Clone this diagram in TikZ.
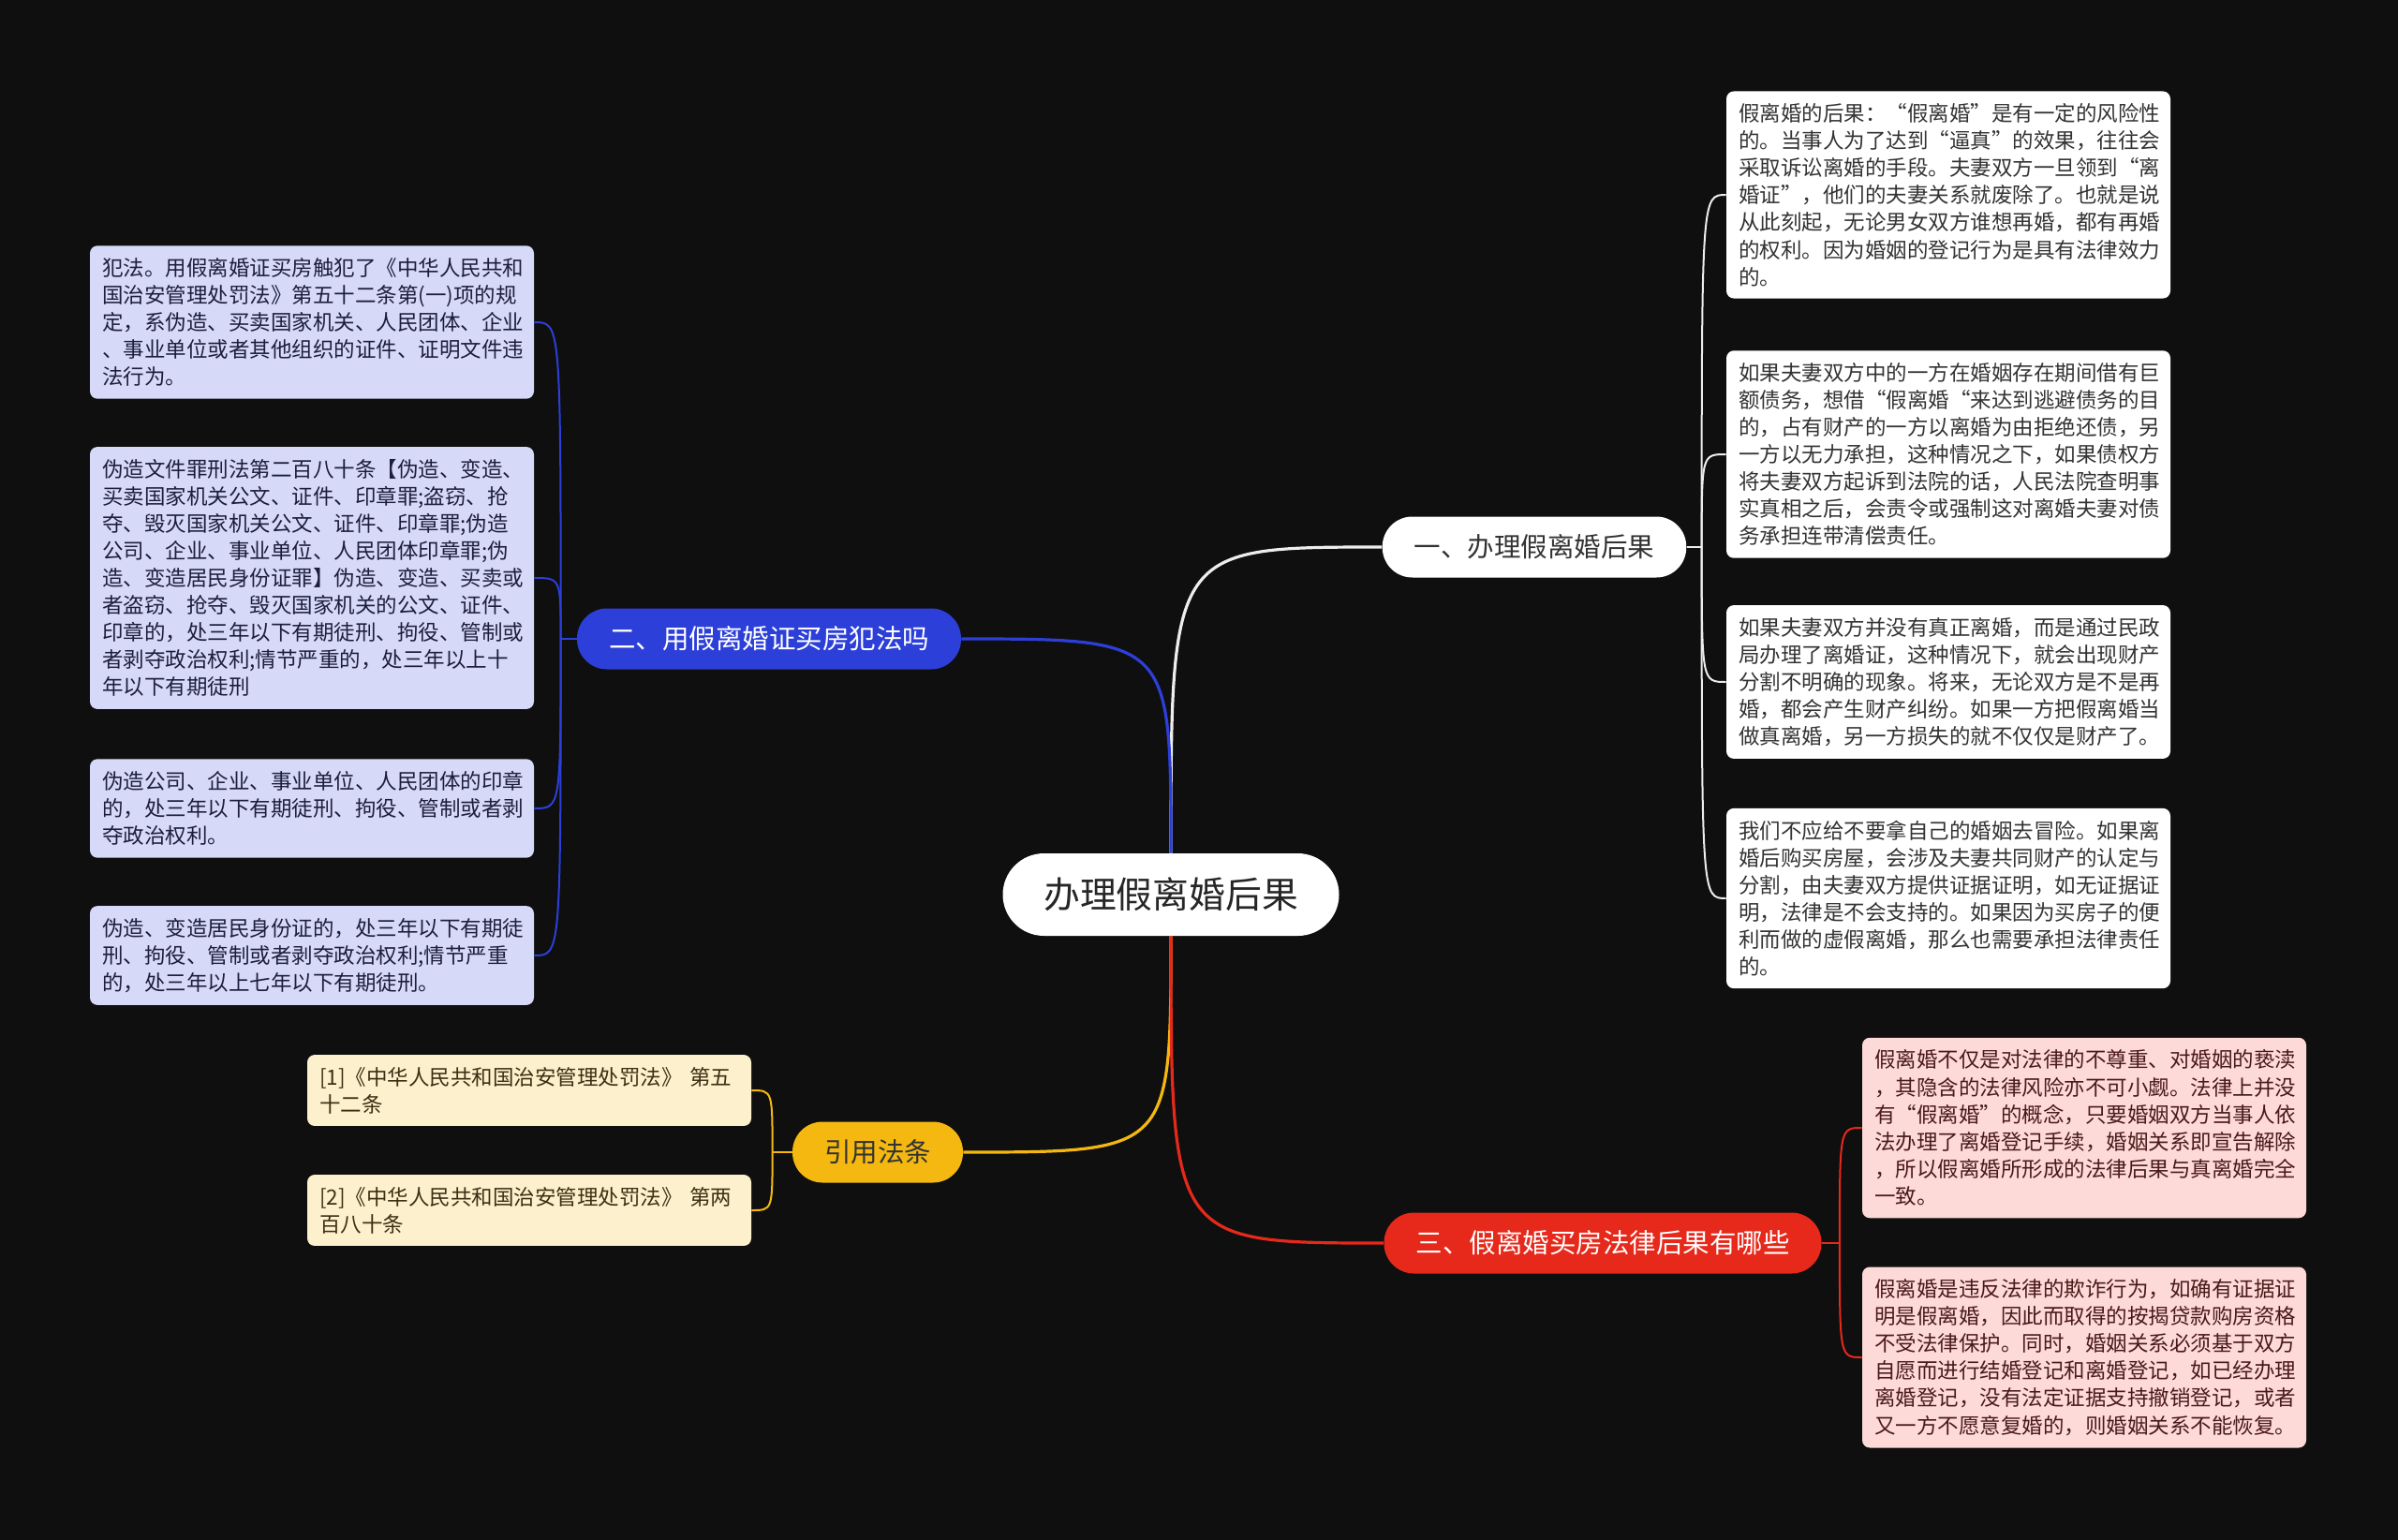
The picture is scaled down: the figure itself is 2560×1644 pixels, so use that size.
\documentclass[tikz,border=0pt]{standalone}
\usepackage{fontspec}
\setmainfont{Noto Sans CJK SC}
\definecolor{bg}{HTML}{0F0F0F}
\definecolor{bluemain}{HTML}{2C3FD8}
\definecolor{bluefill}{HTML}{D6DAF8}
\definecolor{bluetxt}{HTML}{1C1E3C}
\definecolor{yelmain}{HTML}{F4B810}
\definecolor{yelfill}{HTML}{FDF0CC}
\definecolor{yeltxt}{HTML}{3A3014}
\definecolor{redmain}{HTML}{E6291B}
\definecolor{redfill}{HTML}{FDD9D8}
\definecolor{redtxt}{HTML}{4A1A1A}
\definecolor{wtxt}{HTML}{333333}
\definecolor{wline}{HTML}{EDEDED}
\begin{document}
\begin{tikzpicture}[x=0.5pt,y=-0.5pt,
  leaf/.style={rounded corners=4pt, text width=224pt, inner xsep=6.5pt, inner ysep=6.5pt, align=left, font=\fontsize{11.25}{14.55}\selectfont},
  wleaf/.style={leaf, fill=white, text=wtxt},
  bleaf/.style={leaf, fill=bluefill, text=bluetxt},
  yleaf/.style={leaf, fill=yelfill, text=yeltxt},
  rleaf/.style={leaf, fill=redfill, text=redtxt},
  topic/.style={rounded corners=16pt, minimum height=32.5pt, inner xsep=17pt, font=\fontsize{14.25}{16}\selectfont},
  mainline/.style={line width=1.6pt},
  subline/.style={line width=1pt},
]
\useasboundingbox (0,0) rectangle (2560,1644);
\fill[bg] (0,0) rectangle (2560,1644);

% central
\node[fill=white, text=black!85, rounded corners=22pt, minimum height=44pt, minimum width=179.5pt, font=\fontsize{19.4}{22}\selectfont] (c) at (1250,955) {办理假离婚后果};

% main topics
\node[topic, fill=white, text=wtxt] (n1) at (1638,584) {一、办理假离婚后果};
\node[topic, fill=bluemain, text=white] (n2) at (821,682) {二、用假离婚证买房犯法吗};
\node[topic, fill=yelmain, text=wtxt] (n4) at (937,1230) {引用法条};
\node[topic, fill=redmain, text=white] (n3) at (1711,1327) {三、假离婚买房法律后果有哪些};

% main connectors
\draw[mainline, wline] (c.north) .. controls (c.north |- n1.west) .. (n1.west);
\draw[mainline, bluemain] (c.north) .. controls (c.north |- n2.east) .. (n2.east);
\draw[mainline, yelmain] (c.south) .. controls (c.south |- n4.east) .. (n4.east);
\draw[mainline, redmain] (c.south) .. controls (c.south |- n3.west) .. (n3.west);

% leaves of topic 1
\node[wleaf] (a1) at (2080,208) {假离婚的后果：“假离婚”是有一定的风险性\\的。当事人为了达到“逼真”的效果，往往会\\采取诉讼离婚的手段。夫妻双方一旦领到“离\\婚证”，他们的夫妻关系就废除了。也就是说\\从此刻起，无论男女双方谁想再婚，都有再婚\\的权利。因为婚姻的登记行为是具有法律效力\\的。};
\node[wleaf] (a2) at (2080,485) {如果夫妻双方中的一方在婚姻存在期间借有巨\\额债务，想借“假离婚“来达到逃避债务的目\\的，占有财产的一方以离婚为由拒绝还债，另\\一方以无力承担，这种情况之下，如果债权方\\将夫妻双方起诉到法院的话，人民法院查明事\\实真相之后，会责令或强制这对离婚夫妻对债\\务承担连带清偿责任。};
\node[wleaf] (a3) at (2080,728) {如果夫妻双方并没有真正离婚，而是通过民政\\局办理了离婚证，这种情况下，就会出现财产\\分割不明确的现象。将来，无论双方是不是再\\婚，都会产生财产纠纷。如果一方把假离婚当\\做真离婚，另一方损失的就不仅仅是财产了。};
\node[wleaf] (a4) at (2080,959) {我们不应给不要拿自己的婚姻去冒险。如果离\\婚后购买房屋，会涉及夫妻共同财产的认定与\\分割，由夫妻双方提供证据证明，如无证据证\\明，法律是不会支持的。如果因为买房子的便\\利而做的虚假离婚，那么也需要承担法律责任\\的。};

% leaves of topic 2
\node[bleaf] (b1) at (333,344) {犯法。用假离婚证买房触犯了《中华人民共和\\国治安管理处罚法》第五十二条第(一)项的规\\定，系伪造、买卖国家机关、人民团体、企业\\、事业单位或者其他组织的证件、证明文件违\\法行为。};
\node[bleaf] (b2) at (333,617) {伪造文件罪刑法第二百八十条【伪造、变造、\\买卖国家机关公文、证件、印章罪;盗窃、抢\\夺、毁灭国家机关公文、证件、印章罪;伪造\\公司、企业、事业单位、人民团体印章罪;伪\\造、变造居民身份证罪】伪造、变造、买卖或\\者盗窃、抢夺、毁灭国家机关的公文、证件、\\印章的，处三年以下有期徒刑、拘役、管制或\\者剥夺政治权利;情节严重的，处三年以上十\\年以下有期徒刑};
\node[bleaf] (b3) at (333,863) {伪造公司、企业、事业单位、人民团体的印章\\的，处三年以下有期徒刑、拘役、管制或者剥\\夺政治权利。};
\node[bleaf] (b4) at (333,1020) {伪造、变造居民身份证的，处三年以下有期徒\\刑、拘役、管制或者剥夺政治权利;情节严重\\的，处三年以上七年以下有期徒刑。};

% leaves of topic 4
\node[yleaf] (y1) at (565,1164) {[1]《中华人民共和国治安管理处罚法》 第五\\十二条};
\node[yleaf] (y2) at (565,1292) {[2]《中华人民共和国治安管理处罚法》 第两\\百八十条};

% leaves of topic 3
\node[rleaf] (r1) at (2225,1204) {假离婚不仅是对法律的不尊重、对婚姻的亵渎\\，其隐含的法律风险亦不可小觑。法律上并没\\有“假离婚”的概念，只要婚姻双方当事人依\\法办理了离婚登记手续，婚姻关系即宣告解除\\，所以假离婚所形成的法律后果与真离婚完全\\一致。};
\node[rleaf] (r2) at (2225,1449) {假离婚是违反法律的欺诈行为，如确有证据证\\明是假离婚，因此而取得的按揭贷款购房资格\\不受法律保护。同时，婚姻关系必须基于双方\\自愿而进行结婚登记和离婚登记，如已经办理\\离婚登记，没有法定证据支持撤销登记，或者\\又一方不愿意复婚的，则婚姻关系不能恢复。};

% branch points
\coordinate (p1) at ([xshift=8pt]n1.east);
\coordinate (p2) at ([xshift=-8.5pt]n2.west);
\coordinate (p4) at ([xshift=-10.5pt]n4.west);
\coordinate (p3) at ([xshift=9.5pt]n3.east);

\draw[subline, wline] (n1.east) -- (p1);
\foreach \k in {a1,a2,a3,a4}
  \draw[subline, wline] (p1) .. controls (p1 |- \k.west) .. (\k.west);
\draw[subline, bluemain] (n2.west) -- (p2);
\foreach \k in {b1,b2,b3,b4}
  \draw[subline, bluemain] (p2) .. controls (p2 |- \k.east) .. (\k.east);
\draw[subline, yelmain] (n4.west) -- (p4);
\foreach \k in {y1,y2}
  \draw[subline, yelmain] (p4) .. controls (p4 |- \k.east) .. (\k.east);
\draw[subline, redmain] (n3.east) -- (p3);
\foreach \k in {r1,r2}
  \draw[subline, redmain] (p3) .. controls (p3 |- \k.west) .. (\k.west);
\end{tikzpicture}
\end{document}
